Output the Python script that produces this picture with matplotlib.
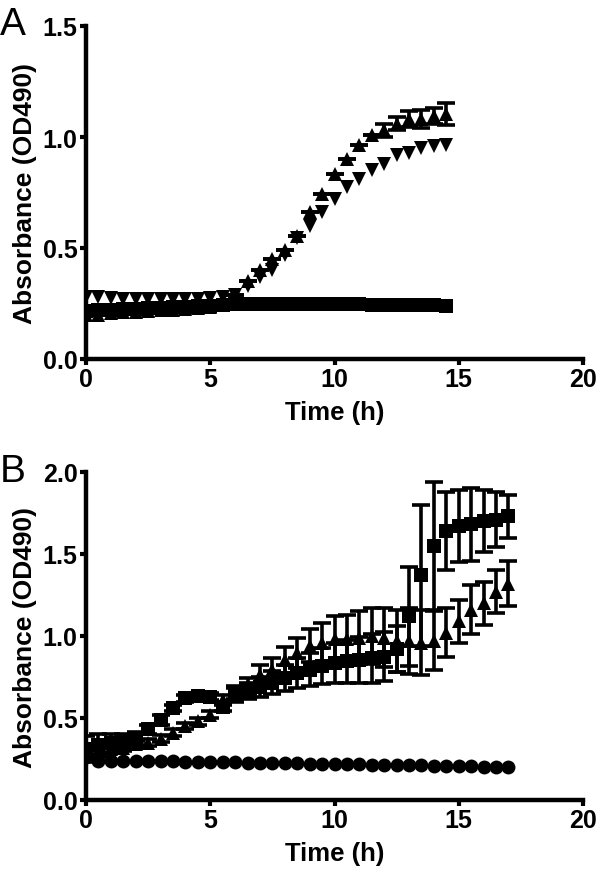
import numpy as np
import matplotlib
matplotlib.use("Agg")
import matplotlib.pyplot as plt

plt.rcParams['font.family'] = ['Liberation Sans', 'DejaVu Sans']

# ---------------- data ----------------
time_a = np.arange(0, 15, 0.5)          # 0 .. 14.5 h
a_up = [0.20, 0.20, 0.205, 0.21, 0.21, 0.215, 0.22, 0.22, 0.225, 0.23,
        0.235, 0.25, 0.29, 0.35, 0.40, 0.45, 0.49, 0.555, 0.66, 0.745,
        0.835, 0.90, 0.965, 1.01, 1.03, 1.06, 1.08, 1.08, 1.095, 1.105]
a_up_err = [0]*24 + [0.03, 0.03, 0.035, 0.04, 0.035, 0.05]
a_down = [0.28, 0.28, 0.275, 0.27, 0.27, 0.27, 0.27, 0.27, 0.27, 0.27,
          0.275, 0.28, 0.29, 0.33, 0.37, 0.40, 0.47, 0.545, 0.60, 0.66,
          0.72, 0.775, 0.81, 0.85, 0.88, 0.92, 0.93, 0.95, 0.96, 0.965]
a_square = [0.215, 0.22, 0.22, 0.225, 0.225, 0.23, 0.23, 0.235, 0.235, 0.24,
            0.24, 0.245, 0.25, 0.25, 0.25, 0.25, 0.25, 0.25, 0.25, 0.248,
            0.248, 0.247, 0.246, 0.245, 0.245, 0.244, 0.243, 0.242, 0.241, 0.24]

time_b = np.arange(0, 17.5, 0.5)        # 0 .. 17 h
b_square = [0.31, 0.335, 0.345, 0.355, 0.375, 0.43, 0.49, 0.56, 0.62, 0.635,
            0.63, 0.57, 0.64, 0.665, 0.69, 0.715, 0.745, 0.775, 0.795, 0.815,
            0.835, 0.845, 0.855, 0.865, 0.875, 0.92, 1.12, 1.37, 1.55, 1.64,
            1.67, 1.68, 1.70, 1.71, 1.73]
b_square_err = [0.08, 0.07, 0.06, 0.05, 0.04, 0.03, 0.03, 0.02, 0.02, 0.02,
                0.02, 0.03, 0.04, 0.05, 0.06, 0.07, 0.08, 0.09, 0.10, 0.11,
                0.12, 0.13, 0.14, 0.15, 0.15, 0.14, 0.30, 0.43, 0.39, 0.24,
                0.22, 0.22, 0.19, 0.17, 0.13]
b_tri = [0.295, 0.30, 0.31, 0.32, 0.34, 0.35, 0.375, 0.41, 0.45, 0.48,
         0.52, 0.61, 0.655, 0.695, 0.765, 0.795, 0.855, 0.895, 0.94, 0.96,
         0.98, 0.98, 0.99, 1.0, 0.99, 0.97, 0.97, 0.96, 0.97, 1.02,
         1.09, 1.16, 1.20, 1.27, 1.32]
b_tri_err = [0.02, 0.02, 0.02, 0.02, 0.02, 0.02, 0.02, 0.02, 0.02, 0.02,
             0.02, 0.03, 0.04, 0.05, 0.06, 0.07, 0.08, 0.09, 0.10, 0.12,
             0.14, 0.15, 0.16, 0.17, 0.18, 0.19, 0.20, 0.20, 0.18, 0.15,
             0.13, 0.15, 0.13, 0.13, 0.14]
b_circle = [0.265, 0.24, 0.24, 0.24, 0.238, 0.237, 0.236, 0.235, 0.234, 0.232,
            0.231, 0.23, 0.229, 0.228, 0.227, 0.226, 0.225, 0.224, 0.222, 0.221,
            0.22, 0.219, 0.218, 0.216, 0.215, 0.214, 0.212, 0.211, 0.21, 0.208,
            0.206, 0.205, 0.203, 0.201, 0.20]

x_ticks = [0, 5, 10, 15, 20]
a_yticks = [0.0, 0.5, 1.0, 1.5]
b_yticks = [0.0, 0.5, 1.0, 1.5, 2.0]

# ---------------- figure ----------------
fig = plt.figure(figsize=(6.0, 8.79), dpi=100)
axA = fig.add_axes([86/600, 1-360/879, 497/600, 333/879])
axB = fig.add_axes([86/600, 1-801/879, 497/600, 328/879])

ebkw = dict(fmt='none', ecolor='black', elinewidth=2.6, capsize=6.5,
            capthick=2.6, zorder=2)

# Panel A
axA.errorbar(time_a, a_up, yerr=a_up_err, **ebkw)
axA.plot(time_a, a_up, ls='none', marker='^', ms=10, color='black', mew=0, zorder=3)
axA.plot(time_a, a_down, ls='none', marker='v', ms=10, color='black', mew=0, zorder=3)
axA.plot(time_a, a_square, ls='none', marker='s', ms=10, color='black', mew=0, zorder=4)

# Panel B
axB.errorbar(time_b, b_tri, yerr=b_tri_err, **ebkw)
axB.errorbar(time_b, b_square, yerr=b_square_err, **ebkw)
axB.plot(time_b, b_tri, ls='none', marker='^', ms=10.5, color='black', mew=0, zorder=3)
axB.plot(time_b, b_square, ls='none', marker='s', ms=9.5, color='black', mew=0, zorder=4)
axB.plot(time_b, b_circle, ls='none', marker='o', ms=10, color='black', mew=0, zorder=4)

for ax, yt, ymax in ((axA, a_yticks, 1.5), (axB, b_yticks, 2.0)):
    ax.set_xlim(0, 20)
    ax.set_ylim(0, ymax)
    ax.set_xticks(x_ticks)
    ax.set_yticks(yt)
    ax.set_xticklabels([str(v) for v in x_ticks])
    ax.set_yticklabels([f"{v:.1f}" for v in yt])
    for s in ('top', 'right'):
        ax.spines[s].set_visible(False)
    for s in ('left', 'bottom'):
        ax.spines[s].set_linewidth(3.2)
        ax.spines[s].set_capstyle('projecting')
    ax.tick_params(width=3, length=4, labelsize=18, pad=2)
    for lab in ax.get_xticklabels() + ax.get_yticklabels():
        lab.set_fontweight('bold')
    ax.set_xlabel('Time (h)', fontsize=18.5, fontweight='bold', labelpad=6)
    ax.set_ylabel('Absorbance (OD490)', fontsize=19, fontweight='bold', labelpad=4)

fig.text(0/600, 1-35/879, 'A', fontsize=28, ha='left', va='baseline')
fig.text(0/600, 1-482/879, 'B', fontsize=28, ha='left', va='baseline')

fig.savefig('out.png', dpi=100)
